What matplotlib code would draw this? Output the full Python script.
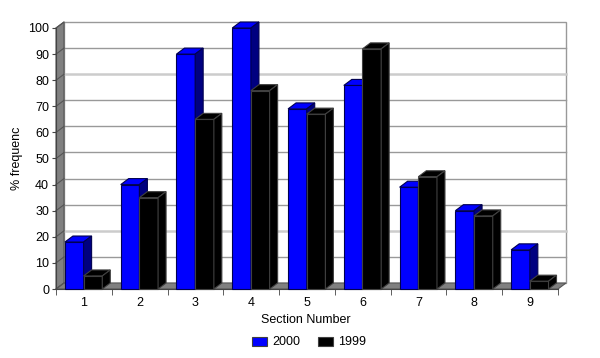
import matplotlib
matplotlib.use('Agg')
import matplotlib.pyplot as plt
from matplotlib.patches import Polygon, Rectangle

plt.rcParams['font.family'] = ['Liberation Sans', 'DejaVu Sans']

sections = [1, 2, 3, 4, 5, 6, 7, 8, 9]
freq_2000 = [18, 40, 90, 100, 69, 78, 39, 30, 15]
freq_1999 = [5, 35, 65, 76, 67, 92, 43, 28, 3]
series_names = ['2000', '1999']
yticks = list(range(0, 101, 10))

W, H = 600, 358
fig = plt.figure(figsize=(6, 3.58), dpi=100)
# front plane of the plot in pixels
x0, x1, ytop, ybot = 56, 558, 28, 289
ax = fig.add_axes([x0 / W, 1 - ybot / H, (x1 - x0) / W, (ybot - ytop) / H])
ax.set_xlim(0.5, 9.5)
ax.set_ylim(0, 100)

# depth of the fake 3D in data units
dx = 8 / ((x1 - x0) / 9)
dy = 6 / ((ybot - ytop) / 100)
xa, xb = 0.5, 9.5

def poly(pts, fc, ec, lw=0.8, z=1):
    ax.add_patch(Polygon(pts, closed=True, facecolor=fc, edgecolor=ec,
                         linewidth=lw, clip_on=False, zorder=z))

# back wall
ax.add_patch(Rectangle((xa + dx, dy), xb - xa, 100, facecolor='white',
                       edgecolor='#999999', linewidth=1, clip_on=False, zorder=0))
for t in yticks[1:-1]:
    c, lw = ('#cccccc', 1.8) if t in (20, 80) else ('#999999', 1)
    ax.plot([xa + dx, xb + dx], [t + dy, t + dy], color=c, lw=lw,
            clip_on=False, zorder=0.5)
# left wall and floor
poly([(xa, 0), (xa + dx, dy), (xa + dx, 100 + dy), (xa, 100)], '#808080', '#555555')
poly([(xa, 0), (xb, 0), (xb + dx, dy), (xa + dx, dy)], '#808080', '#555555')
for t in yticks:
    ax.plot([xa, xa + dx], [t, t + dy], color='#555555', lw=0.8,
            clip_on=False, zorder=1.2)

def bar3d(xl, w, h, front, top, side, edge):
    poly([(xl, 0), (xl + w, 0), (xl + w, h), (xl, h)], front, edge, z=3)
    poly([(xl, h), (xl + w, h), (xl + w + dx, h + dy), (xl + dx, h + dy)], top, edge, z=3)
    poly([(xl + w, 0), (xl + w + dx, dy), (xl + w + dx, h + dy), (xl + w, h)], side, edge, z=3)

bw = 0.335
for i, s in enumerate(sections):
    bar3d(s - 0.34, bw, freq_2000[i], '#0000ff', '#0000ff', '#000080', '#000050')
    bar3d(s - 0.34 + bw, bw, freq_1999[i], '#000000', '#000000', '#000000', '#404040')

for sp in ['top', 'right']:
    ax.spines[sp].set_visible(False)
for sp in ['left', 'bottom']:
    ax.spines[sp].set_color('#444444')
    ax.spines[sp].set_zorder(2)
ax.set_yticks(yticks)
ax.set_xticks(sections)
ax.set_xticks([s - 0.5 for s in sections] + [9.5], minor=True)
ax.tick_params(axis='x', which='major', length=0, pad=6, labelsize=9)
ax.tick_params(axis='x', which='minor', length=4, color='#444444')
ax.tick_params(axis='y', length=3, color='#444444', labelsize=9, pad=2)
ax.set_facecolor('none')

fig.text(17 / W, 1 - 158 / H, '% frequenc', rotation=90, ha='center',
         va='center', fontsize=9)
fig.text(306 / W, 1 - 320 / H, 'Section Number', ha='center', va='center',
         fontsize=9)

# legend
for (lx, tx), name, col in zip([(252, 272), (318, 338)], series_names,
                               ['#0000ff', '#000000']):
    fig.patches.append(Rectangle((lx / W, 1 - 346 / H), 15 / W, 9 / H,
                                 facecolor=col, edgecolor='#404040', lw=0.8,
                                 transform=fig.transFigure, figure=fig))
    fig.text(tx / W, 1 - 342 / H, name, ha='left', va='center', fontsize=9)

fig.savefig('out.png', dpi=100)
